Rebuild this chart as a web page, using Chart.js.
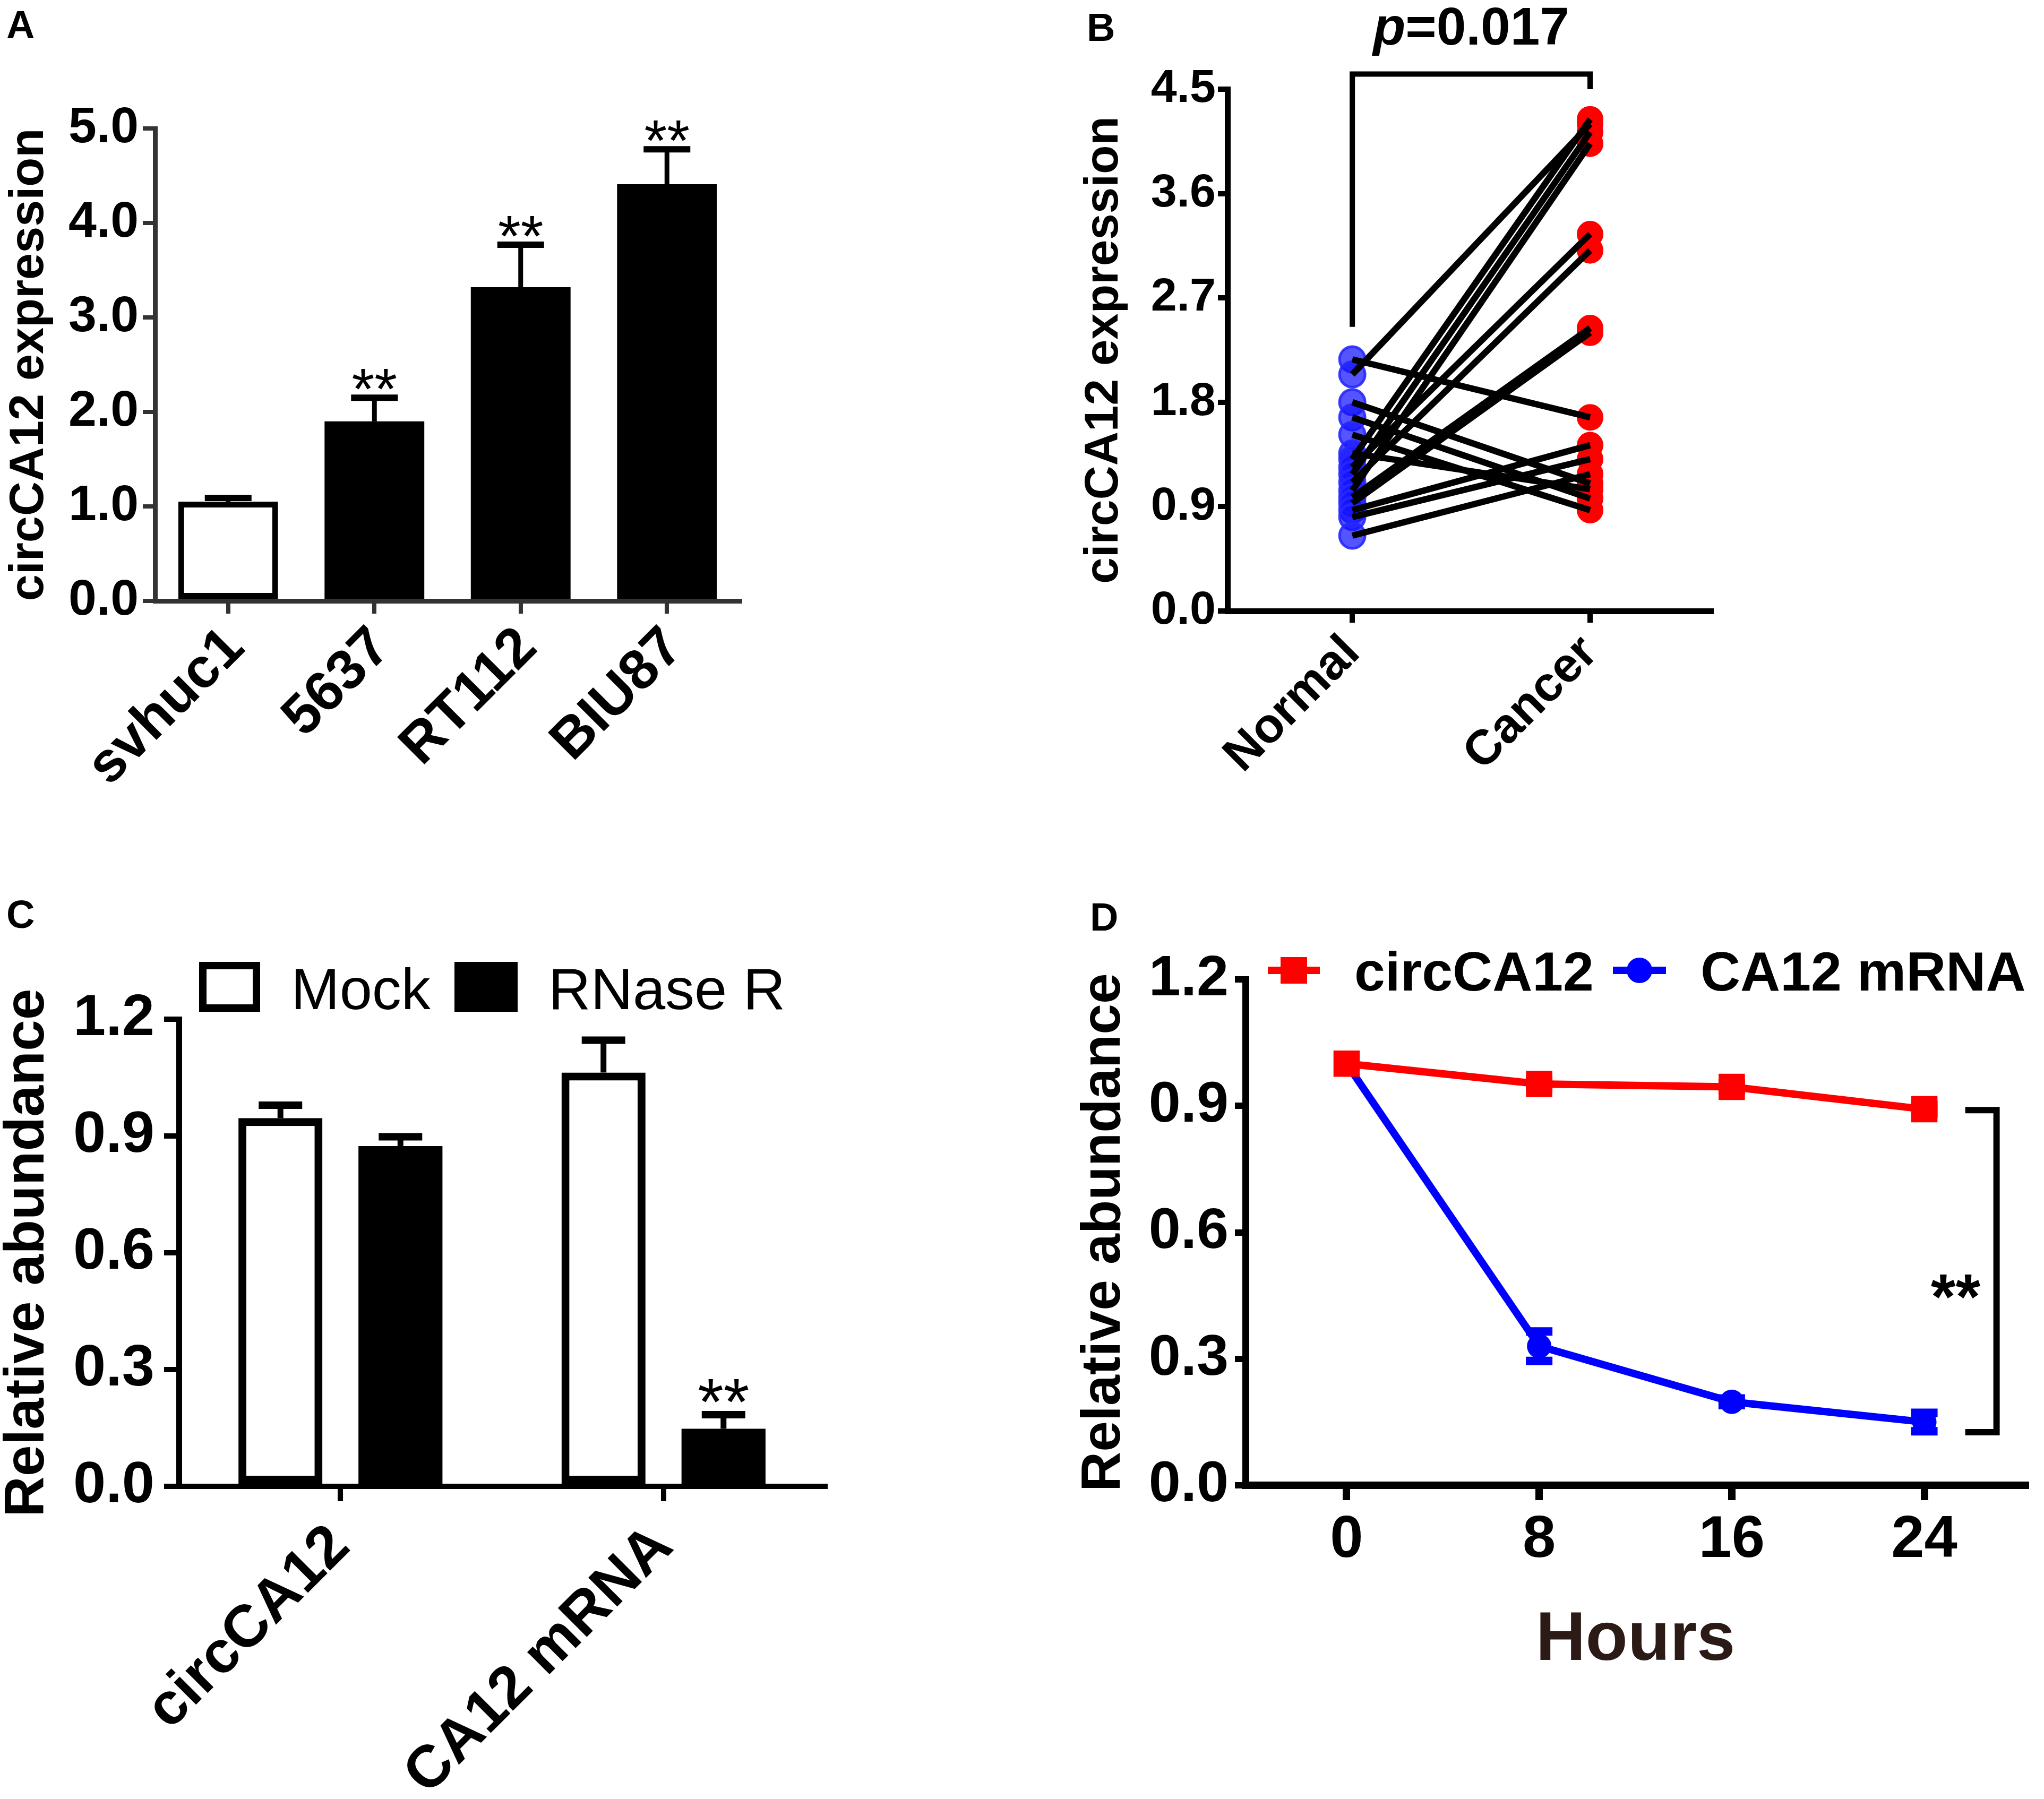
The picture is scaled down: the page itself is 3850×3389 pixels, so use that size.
<!DOCTYPE html>
<html><head><meta charset="utf-8">
<script src="https://cdn.jsdelivr.net/npm/chart.js@4.4.1/dist/chart.umd.min.js"></script>
<style>
html,body{margin:0;padding:0;background:#fff;}
#page{position:relative;width:3850px;height:3389px;background:#fff;overflow:hidden;}
canvas{position:absolute;}
.lbl{position:absolute;font-family:'Liberation Sans',Arial,sans-serif;font-weight:bold;font-size:74px;line-height:1;color:#000;}
</style></head><body>
<div id="page">
<div class="lbl" style="left:12px;top:10px">A</div>
<div class="lbl" style="left:2047px;top:15px">B</div>
<div class="lbl" style="left:12px;top:1686px">C</div>
<div class="lbl" style="left:2053px;top:1691px">D</div>
<canvas id="cA" width="1925" height="1694" style="left:0;top:0"></canvas>
<canvas id="cB" width="1925" height="1694" style="left:1925px;top:0"></canvas>
<canvas id="cC" width="1925" height="1695" style="left:0;top:1694px"></canvas>
<canvas id="cD" width="1925" height="1695" style="left:1925px;top:1694px"></canvas>
</div>
<script>
// ---------- DATA ----------
// Panel A
const aCategories = ['svhuc1', '5637', 'RT112', 'BIU87'];
const aMeans = [1.05, 1.90, 3.32, 4.41];
const aErrors = [0.04, 0.25, 0.45, 0.37];
const aStars = ['', '**', '**', '**'];
const aYTicks = [0, 1, 2, 3, 4, 5];

// Panel B (paired samples)
const bGroups = ['Normal', 'Cancer'];
const bNormal = [2.17, 2.04, 1.80, 1.67, 1.52, 1.36, 1.31, 1.24, 1.18, 1.11, 1.04, 0.98, 0.93, 0.87, 0.81, 0.65];
const bCancer = [1.67, 4.20, 1.10, 0.97, 0.87, 1.05, 4.24, 3.25, 4.13, 3.11, 4.03, 2.44, 2.40, 1.43, 1.31, 1.18];
const bYTicks = [0, 0.9, 1.8, 2.7, 3.6, 4.5];
const bPValue = '0.017';

// Panel C
const cCategories = ['circCA12', 'CA12 mRNA'];
const cSeries = ['Mock', 'RNase R'];
const cMock = [0.946, 1.063];
const cMockErr = [0.033, 0.083];
const cRNase = [0.874, 0.148];
const cRNaseErr = [0.024, 0.036];
const cRNaseStars = ['', '**'];
const cYTicks = [0, 0.3, 0.6, 0.9, 1.2];

// Panel D
const dHours = [0, 8, 16, 24];
const dSeries = ['circCA12', 'CA12 mRNA'];
const dCirc = [1.0, 0.952, 0.945, 0.892];
const dCircErr = [0, 0.008, 0.008, 0.01];
const dMrna = [1.0, 0.33, 0.198, 0.15];
const dMrnaErr = [0, 0.035, 0.008, 0.022];
const dYTicks = [0, 0.3, 0.6, 0.9, 1.2];

// ---------- HELPERS ----------
const FONT = "'Liberation Sans', Arial, Helvetica, sans-serif";
const f = (size, weight) => ({ family: FONT, size: size, weight: weight || 'bold', lineHeight: 1 });

function errBar(ctx, x, y0, y1, capW, lw, capLw, color) {
  ctx.save();
  ctx.strokeStyle = color; ctx.lineCap = 'butt';
  ctx.lineWidth = lw;
  ctx.beginPath(); ctx.moveTo(x, y0); ctx.lineTo(x, y1); ctx.stroke();
  ctx.lineWidth = capLw;
  ctx.beginPath(); ctx.moveTo(x - capW / 2, y1); ctx.lineTo(x + capW / 2, y1); ctx.stroke();
  ctx.restore();
}

function yAxisCfg(min, max, ticksArr, fontSize, pad, tickLen, tickW, color, title, titleSize, titlePad, width) {
  return {
    min: min, max: max,
    afterBuildTicks: s => { s.ticks = ticksArr.map(v => ({ value: v })); },
    ticks: { callback: v => Number(v).toFixed(1), font: f(fontSize), color: '#000', padding: pad, autoSkip: false },
    grid: { display: true, drawOnChartArea: false, drawTicks: true, tickLength: tickLen, tickWidth: tickW, tickColor: color, lineWidth: tickW, color: color },
    border: { display: true, color: color, width: tickW + 1 },
    title: { display: true, text: title, font: f(titleSize), color: '#000', padding: { top: titlePad, bottom: 0 } },
    afterFit: s => { s.width = width; }
  };
}

const common = { responsive: false, animation: false, devicePixelRatio: 1, events: [],
  plugins: { legend: { display: false }, tooltip: { enabled: false } } };

// ---------- PANEL A ----------
new Chart(document.getElementById('cA'), {
  type: 'bar',
  data: { labels: aCategories, datasets: [{
    data: aMeans,
    backgroundColor: aMeans.map((v, i) => i === 0 ? '#ffffff' : '#000000'),
    borderColor: '#000', borderWidth: aMeans.map((v, i) => i === 0 ? 11 : 0), borderSkipped: false,
    categoryPercentage: 1, barPercentage: 0.682 }] },
  options: Object.assign({}, common, {
    layout: { padding: { left: 0, top: 242, right: 531, bottom: 0 } },
    scales: {
      x: {
        grid: { display: true, offset: false, drawOnChartArea: false, drawTicks: true, tickLength: 24, tickWidth: 8, lineWidth: 8, tickColor: '#333', color: '#333' },
        border: { display: true, color: '#333', width: 9 },
        ticks: { font: f(106), color: '#000', minRotation: 45, maxRotation: 45, padding: 10, labelOffset: 14, autoSkip: false },
        afterFit: s => { s.height = 562; }
      },
      y: yAxisCfg(0, 5, aYTicks, 95, 8, 23, 8, '#333', 'circCA12 expression', 90, 11, 292)
    }
  }),
  plugins: [{ id: 'errA', afterDatasetsDraw(chart) {
    const ctx = chart.ctx, ys = chart.scales.y, meta = chart.getDatasetMeta(0);
    aMeans.forEach((m, i) => {
      const el = meta.data[i];
      const y0 = ys.getPixelForValue(m), y1 = ys.getPixelForValue(m + aErrors[i]);
      errBar(ctx, el.x, y0, y1, 88, 9, 12, '#000');
      if (aStars[i]) {
        ctx.save(); ctx.fillStyle = '#000'; ctx.font = '110px ' + FONT; ctx.textAlign = 'center'; ctx.textBaseline = 'alphabetic';
        ctx.fillText(aStars[i], el.x, y1 + 21); ctx.restore();
      }
    });
  } }]
});

// ---------- PANEL B ----------
const bLineSets = bNormal.map((n, i) => ({
  type: 'scatter', showLine: true, data: [{ x: 0, y: n }, { x: 1, y: bCancer[i] }],
  borderColor: '#000', borderWidth: 12, pointRadius: 0, order: 0, borderCapStyle: 'butt', clip: false
}));
new Chart(document.getElementById('cB'), {
  type: 'scatter',
  data: { datasets: bLineSets.concat([
    { data: bNormal.map(v => ({ x: 0, y: v })), pointRadius: 24, backgroundColor: 'rgba(20,20,255,0.72)', borderColor: 'rgba(40,40,255,0.9)', borderWidth: 5, order: 1, clip: false },
    { data: bCancer.map(v => ({ x: 1, y: v })), pointRadius: 24, backgroundColor: '#ff0000', borderColor: '#ff0000', borderWidth: 2, order: 1, clip: false }
  ]) },
  options: Object.assign({}, common, {
    layout: { padding: { left: 0, top: 168, right: 627, bottom: 0 } },
    scales: {
      x: {
        type: 'linear', min: -0.525, max: 1.509,
        afterBuildTicks: s => { s.ticks = [{ value: 0 }, { value: 1 }]; },
        grid: { display: true, drawOnChartArea: false, drawTicks: true, tickLength: 22, tickWidth: 10, lineWidth: 10, tickColor: '#000', color: '#000' },
        border: { display: true, color: '#000', width: 11 },
        ticks: { callback: v => bGroups[v], font: f(92), color: '#000', minRotation: 45, maxRotation: 45, padding: 10, autoSkip: false },
        afterFit: s => { s.height = 543; }
      },
      y: yAxisCfg(0, 4.5, bYTicks, 88, 4, 18, 10, '#000', 'circCA12 expression', 89, 111, 387)
    }
  }),
  plugins: [{ id: 'annB', afterDraw(chart) {
    const ctx = chart.ctx, xs = chart.scales.x, ys = chart.scales.y;
    const xl = xs.getPixelForValue(0), xr = xs.getPixelForValue(1);
    const yt = ys.getPixelForValue(4.63), yl = ys.getPixelForValue(2.45), yr = ys.getPixelForValue(4.5);
    ctx.save();
    ctx.strokeStyle = '#000'; ctx.lineWidth = 10; ctx.lineJoin = 'miter';
    ctx.beginPath(); ctx.moveTo(xl, yl); ctx.lineTo(xl, yt); ctx.lineTo(xr, yt); ctx.lineTo(xr, yr); ctx.stroke();
    ctx.fillStyle = '#000'; ctx.textBaseline = 'alphabetic';
    const pF = 'italic bold 100px ' + FONT, rF = 'bold 100px ' + FONT;
    ctx.font = pF; const wp = ctx.measureText('p').width;
    ctx.font = rF; const wr = ctx.measureText('=' + bPValue).width;
    const x0 = (xl + xr) / 2 - (wp + wr) / 2, yb = yt - 56;
    ctx.font = pF; ctx.textAlign = 'left'; ctx.fillText('p', x0, yb);
    ctx.font = rF; ctx.fillText('=' + bPValue, x0 + wp, yb);
    ctx.restore();
  } }]
});

// ---------- PANEL C ----------
new Chart(document.getElementById('cC'), {
  type: 'bar',
  data: { labels: cCategories, datasets: [
    { label: cSeries[0], data: cMock, backgroundColor: '#fff', borderColor: '#000', borderWidth: 15, borderSkipped: false, categoryPercentage: 0.743, barPercentage: 0.70 },
    { label: cSeries[1], data: cRNase, backgroundColor: '#000', borderColor: '#000', borderWidth: 0, borderSkipped: false, categoryPercentage: 0.743, barPercentage: 0.70 }
  ] },
  options: Object.assign({}, common, {
    layout: { padding: { left: 0, top: 226, right: 371, bottom: 0 } },
    scales: {
      x: {
        grid: { display: true, offset: false, drawOnChartArea: false, drawTicks: true, tickLength: 28, tickWidth: 10, lineWidth: 10, tickColor: '#000', color: '#000' },
        border: { display: true, color: '#000', width: 10 },
        ticks: { font: f(112), color: '#000', minRotation: 45, maxRotation: 45, padding: 28, autoSkip: false },
        afterFit: s => { s.height = 589; }
      },
      y: yAxisCfg(0, 1.2, cYTicks, 110, 18, 28, 10, '#000', 'Relative abundance', 106, 0, 337)
    }
  }),
  plugins: [{ id: 'annC', afterDatasetsDraw(chart) {
    const ctx = chart.ctx, ys = chart.scales.y;
    const sets = [[cMock, cMockErr], [cRNase, cRNaseErr]];
    sets.forEach((s, di) => {
      const meta = chart.getDatasetMeta(di);
      s[0].forEach((m, i) => {
        const el = meta.data[i];
        const y0 = ys.getPixelForValue(m), y1 = ys.getPixelForValue(m + s[1][i]);
        errBar(ctx, el.x, y0, y1, 82, 11, 14, '#000');
        if (di === 1 && cRNaseStars[i]) {
          ctx.save(); ctx.fillStyle = '#000'; ctx.font = '125px ' + FONT; ctx.textAlign = 'center';
          ctx.fillText(cRNaseStars[i], el.x, y1 + 19); ctx.restore();
        }
      });
    });
    // legend
    ctx.save();
    ctx.lineWidth = 14; ctx.strokeStyle = '#000'; ctx.fillStyle = '#fff';
    ctx.fillRect(375, 118, 115, 94); ctx.strokeRect(382, 125, 101, 80);
    ctx.fillStyle = '#000'; ctx.fillRect(856, 118, 119, 94);
    ctx.font = '110px ' + FONT; ctx.textAlign = 'left'; ctx.textBaseline = 'alphabetic';
    ctx.fillText(cSeries[0], 548, 207);
    ctx.fillText(cSeries[1], 1033, 207);
    ctx.restore();
  } }]
});

// ---------- PANEL D ----------
new Chart(document.getElementById('cD'), {
  type: 'line',
  data: { datasets: [
    { label: dSeries[0], data: dHours.map((h, i) => ({ x: h, y: dCirc[i] })), borderColor: '#ff0000', backgroundColor: '#ff0000', borderWidth: 14, pointStyle: 'rect', pointRadius: 35, pointBorderWidth: 0, pointBackgroundColor: '#ff0000', tension: 0, order: 0, clip: false },
    { label: dSeries[1], data: dHours.map((h, i) => ({ x: h, y: dMrna[i] })), borderColor: '#0000ff', backgroundColor: '#0000ff', borderWidth: 14, pointStyle: 'circle', pointRadius: 23, pointBorderWidth: 0, pointBackgroundColor: '#0000ff', tension: 0, order: 1, clip: false }
  ] },
  options: Object.assign({}, common, {
    layout: { padding: { left: 0, top: 151, right: 0, bottom: 0 } },
    scales: {
      x: {
        type: 'linear', min: -4.2, max: 28.2,
        afterBuildTicks: s => { s.ticks = dHours.map(v => ({ value: v })); },
        grid: { display: true, drawOnChartArea: false, drawTicks: true, tickLength: 28, tickWidth: 14, lineWidth: 14, tickColor: '#000', color: '#000' },
        border: { display: true, color: '#000', width: 14 },
        ticks: { callback: v => String(v), font: f(112), color: '#000', padding: 20, autoSkip: false, maxRotation: 0 },
        title: { display: true, text: 'Hours', font: f(130), color: '#2b1a16', padding: { top: 0, bottom: 233 } },
        afterFit: s => { s.height = 591; }
      },
      y: yAxisCfg(0, 1.2, dYTicks, 108, 12, 20, 12, '#000', 'Relative abundance', 104, 103, 421)
    }
  }),
  plugins: [{ id: 'annD', afterDatasetsDraw(chart) {
    const ctx = chart.ctx, xs = chart.scales.x, ys = chart.scales.y;
    const ser = [[dCirc, dCircErr, '#ff0000'], [dMrna, dMrnaErr, '#0000ff']];
    ser.forEach(s => {
      s[0].forEach((m, i) => {
        if (!s[1][i]) return;
        const x = xs.getPixelForValue(dHours[i]);
        const yHi = ys.getPixelForValue(m + s[1][i]), yLo = ys.getPixelForValue(m - s[1][i]);
        const yM = ys.getPixelForValue(m);
        errBar(ctx, x, yM, yHi, 50, 12, 16, s[2]);
        errBar(ctx, x, yM, yLo, 50, 12, 16, s[2]);
      });
    });
    // significance bracket
    const bx0 = xs.getPixelForValue(25.7), bx1 = xs.getPixelForValue(27.0);
    const by0 = ys.getPixelForValue(0.89), by1 = ys.getPixelForValue(0.126);
    ctx.save();
    ctx.strokeStyle = '#000'; ctx.lineWidth = 12; ctx.lineJoin = 'miter';
    ctx.beginPath(); ctx.moveTo(bx0, by0); ctx.lineTo(bx1, by0); ctx.lineTo(bx1, by1); ctx.lineTo(bx0, by1); ctx.stroke();
    ctx.fillStyle = '#000'; ctx.font = 'bold 120px ' + FONT; ctx.textAlign = 'center'; ctx.textBaseline = 'alphabetic';
    ctx.fillText('**', xs.getPixelForValue(25.3), ys.getPixelForValue(0.478) + 66);
    // legend
    const ly = 134;
    ctx.lineWidth = 14; ctx.strokeStyle = '#ff0000'; ctx.fillStyle = '#ff0000';
    ctx.beginPath(); ctx.moveTo(463, ly); ctx.lineTo(561, ly); ctx.stroke();
    ctx.fillRect(512 - 25, ly - 25, 50, 50);
    ctx.strokeStyle = '#0000ff'; ctx.fillStyle = '#0000ff';
    ctx.beginPath(); ctx.moveTo(1113, ly); ctx.lineTo(1213, ly); ctx.stroke();
    ctx.beginPath(); ctx.arc(1163, ly, 24, 0, Math.PI * 2); ctx.fill();
    ctx.fillStyle = '#000'; ctx.font = 'bold 104px ' + FONT; ctx.textAlign = 'left';
    ctx.fillText(dSeries[0], 626, 172);
    ctx.fillText(dSeries[1], 1278, 172);
    ctx.restore();
  } }]
});
</script>
</body></html>
